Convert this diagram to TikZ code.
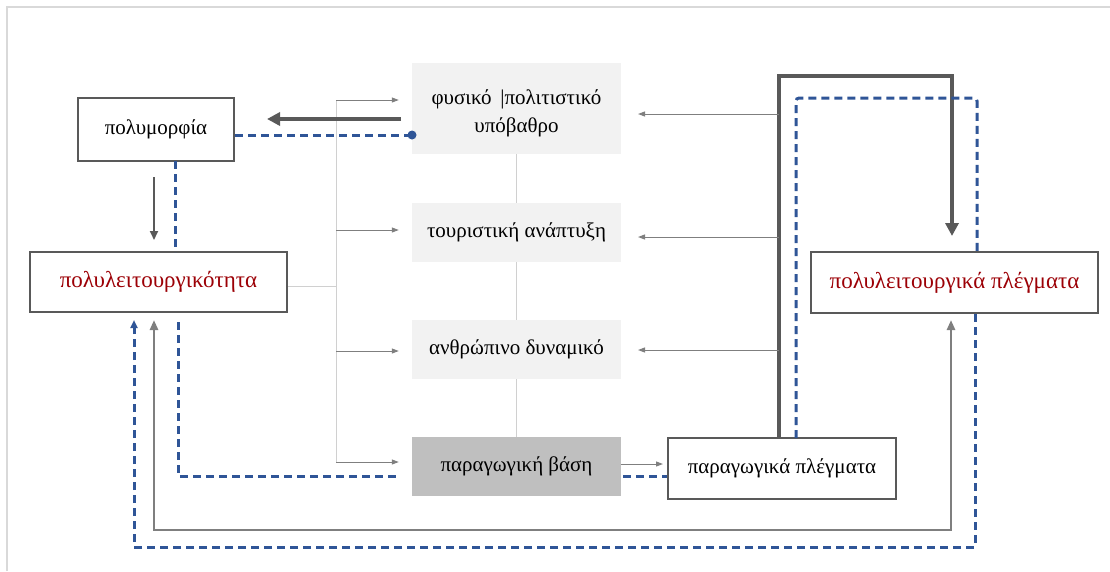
\documentclass[tikz,border=0pt]{standalone}
\usepackage{fontspec}
\setmainfont{Liberation Serif}
\usetikzlibrary{arrows.meta}
\definecolor{bluedash}{HTML}{2F5597}
\definecolor{darkline}{HTML}{595959}
\definecolor{midline}{HTML}{7F7F7F}
\definecolor{lightfill}{HTML}{F2F2F2}
\definecolor{darkfill}{HTML}{BFBFBF}
\definecolor{framecol}{HTML}{D9D9D9}
\definecolor{redtext}{HTML}{9C0006}
\definecolor{linkgray}{HTML}{D0D0D0}
\tikzset{
  whitebox/.style={draw=darkline, line width=2pt, fill=white, font=\fontsize{21}{26}\selectfont, align=center, inner sep=0pt},
  redbox/.style={whitebox, text=redtext, font=\fontsize{23}{28}\selectfont},
  graybox/.style={draw=none, fill=lightfill, font=\fontsize{21}{28}\selectfont, align=center, inner sep=0pt, minimum width=209pt},
  plaintext/.style={font=\fontsize{21}{28}\selectfont, align=center, inner sep=0pt},
  thinarrow/.style={draw=midline, line width=1pt, -{Triangle[length=7pt,width=5pt]}},
  busline/.style={draw=linkgray, line width=1pt},
  thickarrow/.style={draw=darkline, line width=4.5pt, -{Triangle[length=13pt,width=13pt]}},
  medarrow/.style={draw=darkline, line width=2pt, -{Triangle[length=9pt,width=8pt]}},
  grayloop/.style={draw=midline, line width=2.8pt, {Triangle[length=10pt,width=8pt]}-{Triangle[length=10pt,width=8pt]}},
  bluedashed/.style={draw=bluedash, line width=3pt, dash pattern=on 8pt off 5pt},
}
\begin{document}
\begin{tikzpicture}[x=1pt,y=-1pt]
\useasboundingbox (0,0) rectangle (1110,571);
\draw[framecol, line width=2pt] (7,571) -- (7,7) -- (1110,7);

% nodes
\node[whitebox, minimum width=156pt, minimum height=63pt] (poly) at (156,129) {πολυμορφία};
\node[redbox, minimum width=257pt, minimum height=60pt] (polylei) at (158.5,282) {πολυλειτουργικότητα};
\node[graybox, minimum height=91pt] (fys) at (516.5,108.5) {};
\node[plaintext] (fystext) at ([yshift=-5pt]fys.center) {φυσικό \,|πολιτιστικό\\υπόβαθρο};
\node[graybox, minimum height=59pt] (tour) at (516.5,232.5) {τουριστική ανάπτυξη};
\node[graybox, minimum height=59pt] (anth) at (516.5,349.5) {ανθρώπινο δυναμικό};
\node[graybox, fill=darkfill, minimum height=59pt] (vasi) at (516.5,466.5) {παραγωγική βάση};
\node[whitebox, minimum width=228pt, minimum height=61pt] (parpl) at (782,468.5) {παραγωγικά πλέγματα};
\node[redbox, minimum width=287pt, minimum height=61pt] (polpl) at (954.5,282.5) {πολυλειτουργικά πλέγματα};

% vertical links between central boxes
\draw[busline] (fys) -- (tour);
\draw[busline] (tour) -- (anth);
\draw[busline] (anth) -- (vasi);

% left bus
\coordinate (bTop) at (336,100);
\coordinate (b2) at (336,230);
\coordinate (b3) at (336,351);
\coordinate (bBot) at (336,462);
\draw[busline] (polylei.east |- 0,286) -- (336,286);
\draw[busline] (bTop) -- (bBot);
\draw[thinarrow, shorten >=13pt] (bTop) -- (bTop -| fys.west);
\draw[thinarrow, shorten >=13pt] (b2) -- (b2 -| tour.west);
\draw[thinarrow, shorten >=13pt] (b3) -- (b3 -| anth.west);
\draw[thinarrow, shorten >=13pt] (bBot) -- (bBot -| vasi.west);

% thick arrow from background to diversity
\coordinate (ta) at (412,119);
\draw[thickarrow, shorten <=11pt, shorten >=32pt] (ta) -- (ta -| poly.east);
% blue dashed with dot
\coordinate (bd) at (412,135);
\draw[bluedashed] (bd -| poly.east) -- (bd);
\fill[bluedash] (bd) circle (4.5pt);

% diversity -> multifunctionality
\draw[medarrow, shorten <=16pt, shorten >=12pt] (154,161) -- (154,252);
\draw[bluedashed] (175,161) -- (175,252);

% productive base -> productive networks
\coordinate (pv) at (621,464);
\draw[thinarrow, shorten >=4pt] (pv) -- (pv -| parpl.west);

% blue dashed from multifunctionality down to productive base, then to networks
\draw[bluedashed] (178,322) -- (178,476) -- (397,476);
\draw[bluedashed] (623,476) -- (parpl.west |- 0,476);

% thick loop from productive networks to multifunctional networks
\coordinate (t1) at (779,76);
\coordinate (t2) at (952,76);
\draw[thickarrow] (parpl.north -| t1) -- (t1) -- (t2) -- (952,236);

% thin arrows to left
\draw[thinarrow] (779,114) -- (638,114);
\draw[thinarrow] (779,237) -- (638,237);
\draw[thinarrow] (779,350) -- (638,350);

% blue dashed loop
\draw[bluedashed, rounded corners=3pt] (796,438) -- (796,98) -- (977,98) -- (polpl.north -| 977,0);

% bottom gray loop
\draw[grayloop] (154,320) -- (154,530) -- (951,530) -- (951,320);

% bottom blue dashed loop
\draw[bluedashed, -{Triangle[length=8pt,width=7pt]}] (polpl.south -| 975,0) -- (975,547) -- (134,547) -- (134,320);
\end{tikzpicture}
\end{document}
